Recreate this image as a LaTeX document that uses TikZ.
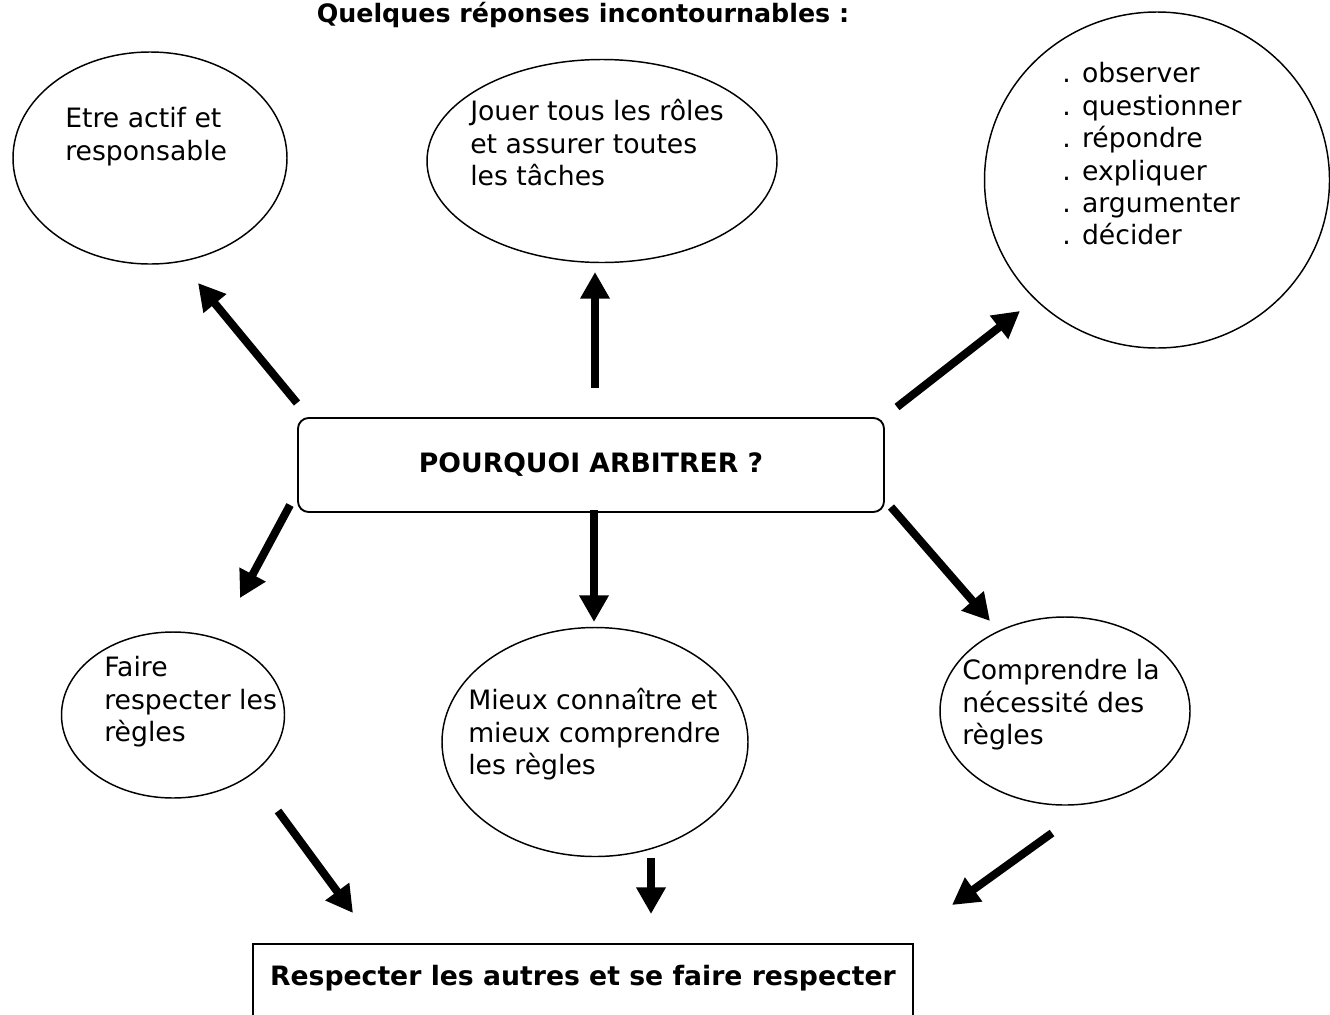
\documentclass[tikz,border=0pt]{standalone}
\usepackage{fontspec}
\setmainfont{DejaVu Sans}
\usetikzlibrary{arrows.meta,shapes.geometric}

\newcommand{\pxl}{0.75pt}
\newcommand{\corps}{\fontsize{20}{24.3}\selectfont}

\begin{document}
\begin{tikzpicture}[x=0.75pt, y=-0.75pt, font=\corps,
    bulle/.style={draw, ellipse, line width=1.1pt, inner sep=0pt},
    texte/.style={anchor=north west, inner sep=0pt, align=left, font=\corps},
    fleche/.style={line width=6pt, -{Triangle[length=20pt,width=21pt]}}]
	\useasboundingbox (0,0) rectangle (1330,1014);
	\node (titre) [anchor=base, font=\fontsize{19}{23}\selectfont\bfseries] at (583,22) {Quelques réponses incontournables :};
	\node (pourquoi) [draw, rounded corners=8pt, line width=1.4pt, minimum width=586*\pxl, minimum height=94*\pxl, font=\corps\bfseries] at (591,465) {POURQUOI ARBITRER ?};
	\node (actif) [bulle, minimum width=274*\pxl, minimum height=212*\pxl] at (150,158) {};
	\node (roles) [bulle, minimum width=350*\pxl, minimum height=203*\pxl] at (602,161) {};
	\node (verbes) [bulle, minimum width=345*\pxl, minimum height=336*\pxl] at (1157,180) {};
	\node (faire) [bulle, minimum width=223*\pxl, minimum height=166*\pxl] at (173,715) {};
	\node (mieux) [bulle, minimum width=306*\pxl, minimum height=229*\pxl] at (595,742) {};
	\node (comprendre) [bulle, minimum width=250*\pxl, minimum height=188*\pxl] at (1065,711) {};
	\node (actiftxt) [texte] at (65,105) {\strut Etre actif et\\responsable};
	\node (rolestxt) [texte] at (470,98) {\strut Jouer tous les rôles\\et assurer toutes\\les tâches};
	\node (verbestxt) [texte] at (1062,60) {\strut . observer\\. questionner\\. répondre\\. expliquer\\. argumenter\\. décider};
	\node (fairetxt) [texte] at (104,654) {\strut Faire\\respecter les\\règles};
	\node (mieuxtxt) [texte] at (468,687) {\strut Mieux connaître et\\mieux comprendre\\les règles};
	\node (comprendretxt) [texte] at (962,657) {\strut Comprendre la\\nécessité des\\règles};
	\node (respect) [draw, line width=1.4pt, minimum width=660*\pxl, minimum height=120*\pxl, anchor=north] at (583,943) {};
	\node (respecttxt) [anchor=base, font=\corps\bfseries] at (583,985) {Respecter les autres et se faire respecter};
	\coordinate (d1) at (297,403); \coordinate (f1) at (198,283);
	\coordinate (d2) at (595,388); \coordinate (f2) at (595,272);
	\coordinate (d3) at (897,407); \coordinate (f3) at (1020,311);
	\coordinate (d4) at (290,505); \coordinate (f4) at (240,598);
	\coordinate (d5) at (594,510); \coordinate (f5) at (594,622);
	\coordinate (d6) at (891,507); \coordinate (f6) at (990,621);
	\coordinate (d7) at (278,811); \coordinate (f7) at (353,913);
	\coordinate (d8) at (651,858); \coordinate (f8) at (651,914);
	\coordinate (d9) at (1052,833); \coordinate (f9) at (952,905);
	\draw[fleche] (d1) -- (f1);
	\draw[fleche] (d2) -- (f2);
	\draw[fleche] (d3) -- (f3);
	\draw[fleche] (d4) -- (f4);
	\draw[fleche] (d5) -- (f5);
	\draw[fleche] (d6) -- (f6);
	\draw[fleche] (d7) -- (f7);
	\draw[fleche] (d8) -- (f8);
	\draw[fleche] (d9) -- (f9);
\end{tikzpicture}
\end{document}
